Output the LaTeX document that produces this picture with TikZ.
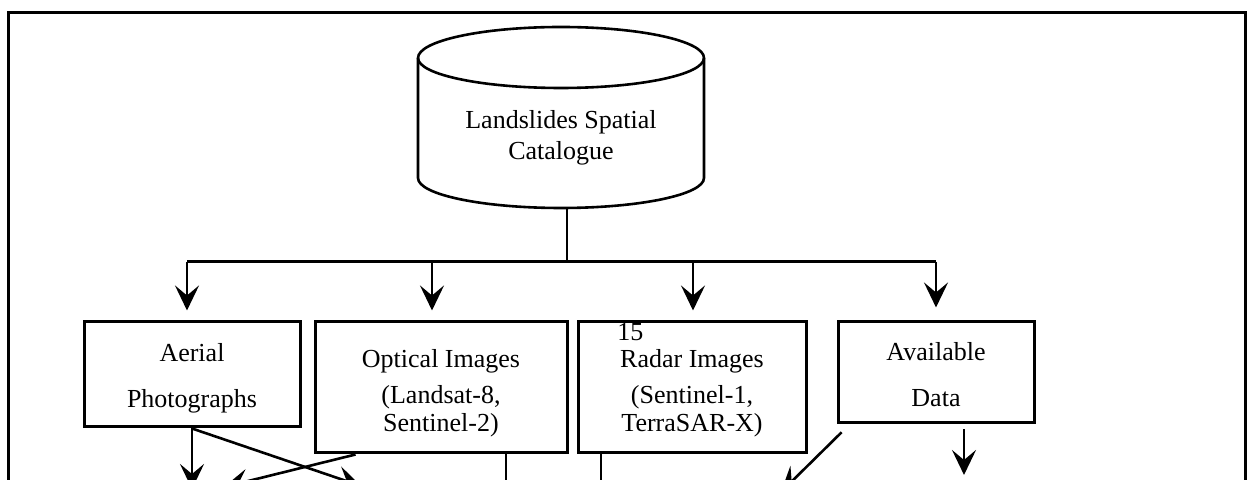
\documentclass[tikz,border=0pt]{standalone}
\usepackage{fontspec}
\setmainfont{Liberation Serif}
\usetikzlibrary{arrows.meta}

\begin{document}
\begin{tikzpicture}[x=0.5pt, y=0.5pt]
 \tikzstyle{boite}=[rectangle, draw, line width=1.5pt, inner sep=0pt, align=center, font=\fontsize{13}{15}\selectfont]
 \tikzstyle{fleche}=[-{Stealth[length=12.5pt, width=12pt, inset=5pt]}, line width=1.3pt]
 \tikzstyle{trait}=[line width=1.1pt]
 \useasboundingbox (0,0) rectangle (1247,480);
 \clip (0,0) rectangle (1247,480);
 %
 \draw[line width=1.5pt] (8,-10) -- (8,467) -- (1245,467) -- (1245,-10);
 %
 \draw[line width=1.3pt] (418,422) -- (418,302) arc[start angle=180, end angle=360, x radius=143, y radius=30] -- (704,422) arc[start angle=0, end angle=180, x radius=143, y radius=31];
 \draw[line width=1.3pt] (418,422) arc[start angle=180, end angle=360, x radius=143, y radius=30];
 \node[align=center, font=\fontsize{13}{15.5}\selectfont] (cat) at (561,342.5) {Landslides Spatial\\Catalogue};
 \coordinate (cylbot) at (567,272);
 %
 \node[boite, minimum width=108pt, minimum height=52.5pt] (aerial) at (192,105.5) {\rule{0pt}{13pt}Aerial\\[8pt]Photographs};
 \node[boite, minimum width=126pt, minimum height=65.5pt] (optical) at (441,92.5) {\rule{0pt}{15pt}Optical Images\\[3pt](Landsat-8,\\[-1pt]Sentinel-2)};
 \node[boite, minimum width=114pt, minimum height=65.5pt] (radar) at (692,92.5) {\rule{0pt}{15pt}Radar Images\\[3pt](Sentinel-1,\\[-1pt]TerraSAR-X)};
 \node[boite, minimum width=98pt, minimum height=50.5pt] (avail) at (936,107.5) {\rule{0pt}{11pt}Available\\[8pt]Data};
 \node[anchor=west, inner sep=0pt, font=\fontsize{13}{15}\selectfont] (pnum) at (617,148) {15};
 %
 \coordinate (stem) at (567,218);
 \coordinate (ba) at (187,218);
 \coordinate (bo) at (432,218);
 \coordinate (br) at (693,218);
 \coordinate (bd) at (936,218);
 %%
 \draw[trait] (cylbot)--(stem);
 \draw[line width=1.5pt] (ba)--(bd);
 \draw[fleche, shorten >=5pt] (ba)--(ba |- aerial.north);
 \draw[fleche, shorten >=5pt] (bo)--(bo |- optical.north);
 \draw[fleche, shorten >=5pt] (br)--(br |- radar.north);
 \draw[fleche, shorten >=6.5pt] (bd)--(bd |- avail.north);
 %
 \coordinate (a1) at (192,-9);
 \coordinate (a2) at (361,-6);
 \coordinate (o1) at (224,-7);
 \coordinate (o2) at (506,-10);
 \coordinate (r1) at (601,-10);
 \coordinate (d1) at (781,-12);
 \coordinate (d2) at (964,5);
 \draw[fleche] (aerial.south)--(a1);
 \draw[fleche] (aerial.south)--(a2);
 \draw[fleche] ([xshift=21pt]optical.south west)--(o1);
 \draw[trait] (optical.south -| o2)--(o2);
 \draw[trait] (radar.south -| r1)--(r1);
 \draw[fleche, shorten <=5.5pt] ([xshift=6.5pt]avail.south west)--(d1);
 \draw[fleche, shorten <=2.5pt] (avail.south -| d2)--(d2);
\end{tikzpicture}
\end{document}
